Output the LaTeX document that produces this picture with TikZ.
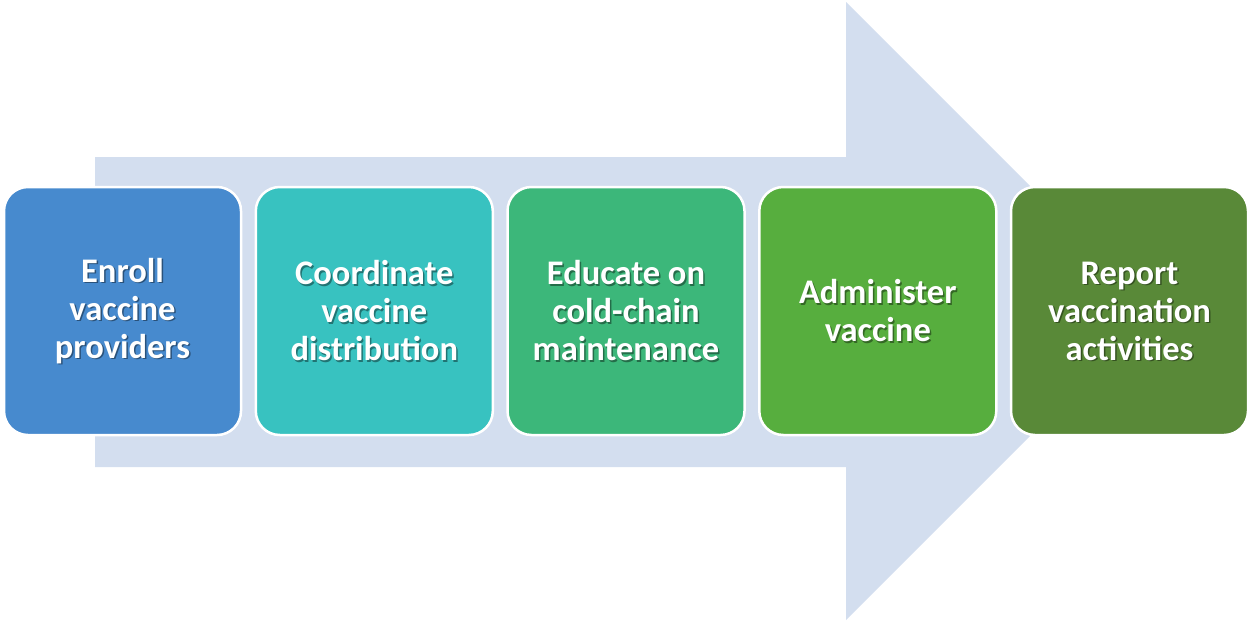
\documentclass[tikz,border=0pt]{standalone}
\usepackage{fontspec}
\setmainfont{Carlito}
\usepackage{tikz}
\usetikzlibrary{positioning}

\definecolor{arrowfill}{RGB}{211,222,239}
\definecolor{stepblue}{RGB}{71,138,206}
\definecolor{stepteal}{RGB}{56,194,192}
\definecolor{stepgreen}{RGB}{60,183,122}
\definecolor{steplime}{RGB}{87,174,62}
\definecolor{stepolive}{RGB}{89,137,56}

\tikzset{
  stepbox/.style={draw=white, line width=2.5pt, rounded corners=24pt,
    minimum width=237pt, minimum height=248pt},
  steptext/.style={text=white, align=center, font=\fontsize{34.5}{38}\selectfont\bfseries},
  stepshadow/.style={steptext, text=black, text opacity=0.4}
}

\begin{document}
\begin{tikzpicture}[x=1pt,y=-1pt]
            \useasboundingbox (0,0) rectangle (1248,622);

            % Background arrow
            \fill[arrowfill] (95,157) -- (846,157) -- (846,2) -- (1155,311)
                -- (846,620) -- (846,467) -- (95,467) -- cycle;

            % Steps
            \foreach \i/\x/\col/\txt in {
                1/122.5/stepblue/{Enroll\\vaccine\\providers},
                2/374.3/stepteal/{Coordinate\\vaccine\\distribution},
                3/626/stepgreen/{Educate on\\cold-chain\\maintenance},
                4/877.8/steplime/{Administer\\vaccine},
                5/1129.5/stepolive/{Report\\vaccination\\activities}} {
                \node[stepbox, fill=\col] (step\i) at (\x,311) {};
                \node[stepshadow] (shadow\i) at ([shift={(1.5,1.5)}]step\i.center) {\txt};
                \node[steptext] (label\i) at (step\i.center) {\txt};
            }

\end{tikzpicture}
\end{document}
